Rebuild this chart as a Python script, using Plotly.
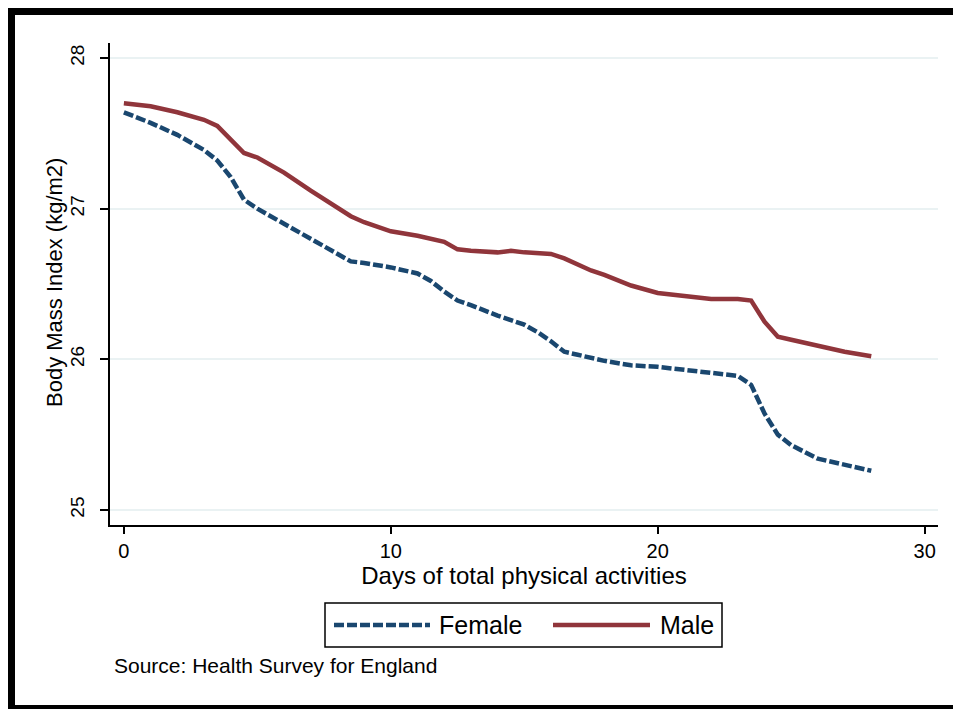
import plotly.graph_objects as go

# ---- data ----
female_days = [0, 1, 2, 3, 3.5, 4, 4.5, 5, 6, 7, 8, 8.5, 9, 10, 11, 11.5, 12, 12.5, 13, 14, 15, 15.5,
               16, 16.5, 17, 18, 19, 20, 21, 22, 23, 23.5, 24, 24.5, 25, 26, 27, 28]
female_bmi = [27.64, 27.57, 27.49, 27.39, 27.32, 27.21, 27.06, 27.00, 26.90, 26.80, 26.70, 26.65,
              26.64, 26.61, 26.57, 26.52, 26.45, 26.39, 26.36, 26.29, 26.23, 26.18, 26.12, 26.05,
              26.03, 25.99, 25.96, 25.95, 25.93, 25.91, 25.89, 25.83, 25.64, 25.50, 25.43, 25.34,
              25.30, 25.26]
male_days = [0, 1, 2, 3, 3.5, 4, 4.5, 5, 6, 7, 8, 8.5, 9, 10, 11, 12, 12.5, 13, 14, 14.5, 15, 16,
             16.5, 17, 17.5, 18, 19, 20, 21, 22, 23, 23.5, 24, 24.5, 25, 26, 27, 28]
male_bmi = [27.70, 27.68, 27.64, 27.59, 27.55, 27.46, 27.37, 27.34, 27.24, 27.12, 27.01, 26.95,
            26.91, 26.85, 26.82, 26.78, 26.73, 26.72, 26.71, 26.72, 26.71, 26.70, 26.67, 26.63,
            26.59, 26.56, 26.49, 26.44, 26.42, 26.40, 26.40, 26.39, 26.25, 26.15, 26.13, 26.09,
            26.05, 26.02]
x_ticks = [0, 10, 20, 30]
y_ticks = [25, 26, 27, 28]
series_names = ["Female", "Male"]
x_title = "Days of total physical activities"
y_title = "Body Mass Index (kg/m2)"
source_note = "Source: Health Survey for England"

FEMALE_COLOR = "#1a476f"
MALE_COLOR = "#90353b"

W, H = 961, 709
OFF = 8  # page body margin in the browser
# plot area in screen pixels
SL, SR, ST, SB = 110, 938, 43, 525
L, R, T, B = SL - OFF, SR - OFF, ST - OFF, SB - OFF


def px(xs):
    return (xs - OFF - L) / (R - L)


def py(ys):
    return (B - (ys - OFF)) / (B - T)


fig = go.Figure()
fig.add_trace(go.Scatter(x=female_days, y=female_bmi, mode="lines", name=series_names[0],
                         line=dict(color=FEMALE_COLOR, width=4.5, dash="10px,3px"),
                         showlegend=False))
fig.add_trace(go.Scatter(x=male_days, y=male_bmi, mode="lines", name=series_names[1],
                         line=dict(color=MALE_COLOR, width=4.5),
                         showlegend=False))

ARIAL = "Liberation Sans, Arial, sans-serif"

fig.update_layout(
    width=W, height=H,
    margin=dict(l=L, r=W - R, t=T, b=H - B),
    paper_bgcolor="white",
    plot_bgcolor="white",
    showlegend=False,
    xaxis=dict(
        range=[-0.52, 30.5], tickvals=x_ticks, ticks="outside", ticklen=7, tickwidth=1.5,
        tickcolor="black", showline=True, linecolor="black", linewidth=1.5,
        showgrid=False, zeroline=False,
        tickfont=dict(family=ARIAL, size=20, color="black"),
        title=dict(text=x_title, font=dict(family=ARIAL, size=24, color="black"), standoff=0),
        automargin=False,
    ),
    yaxis=dict(
        range=[24.9, 28.1], tickvals=y_ticks, ticks="outside", ticklen=8, tickwidth=1.5,
        tickcolor="black", showline=True, linecolor="black", linewidth=1.5,
        showgrid=True, gridcolor="#eaf2f3", gridwidth=1.5, zeroline=False,
        tickangle=-90, ticklabelstandoff=9,
        tickfont=dict(family=ARIAL, size=19, color="black"),
        automargin=False,
    ),
)

# custom legend (box, samples, labels)
shapes = [
    dict(type="rect", xref="paper", yref="paper", x0=px(325), x1=px(722), y0=py(603), y1=py(647),
         line=dict(color="black", width=1.5), fillcolor="white"),
    dict(type="line", xref="paper", yref="paper", x0=px(334), x1=px(430), y0=py(625), y1=py(625),
         line=dict(color=FEMALE_COLOR, width=4.5, dash="10px,3px")),
    dict(type="line", xref="paper", yref="paper", x0=px(553), x1=px(650), y0=py(625), y1=py(625),
         line=dict(color=MALE_COLOR, width=4.5)),
    # outer frame of the picture (left, top, bottom)
    dict(type="rect", xref="paper", yref="paper", x0=px(8), x1=px(15), y0=py(720), y1=py(7),
         line=dict(width=0), fillcolor="black"),
    dict(type="rect", xref="paper", yref="paper", x0=px(8), x1=px(975), y0=py(15), y1=py(7),
         line=dict(width=0), fillcolor="black"),
    dict(type="rect", xref="paper", yref="paper", x0=px(8), x1=px(975), y0=py(720), y1=py(705),
         line=dict(width=0), fillcolor="black"),
]
fig.update_layout(shapes=shapes)

annotations = [
    dict(text=y_title, xref="paper", yref="paper", x=px(54), y=py(283),
         xanchor="center", yanchor="middle", showarrow=False, textangle=-90,
         font=dict(family=ARIAL, size=22, color="black")),
    dict(text=series_names[0], xref="paper", yref="paper", x=px(437), y=py(625),
         xanchor="left", yanchor="middle", showarrow=False,
         font=dict(family=ARIAL, size=25, color="black")),
    dict(text=series_names[1], xref="paper", yref="paper", x=px(658), y=py(625),
         xanchor="left", yanchor="middle", showarrow=False,
         font=dict(family=ARIAL, size=25, color="black")),
    dict(text=source_note, xref="paper", yref="paper", x=px(112), y=py(665),
         xanchor="left", yanchor="middle", showarrow=False,
         font=dict(family=ARIAL, size=21, color="black")),
]
fig.update_layout(annotations=annotations)

fig.write_html("out.html")
